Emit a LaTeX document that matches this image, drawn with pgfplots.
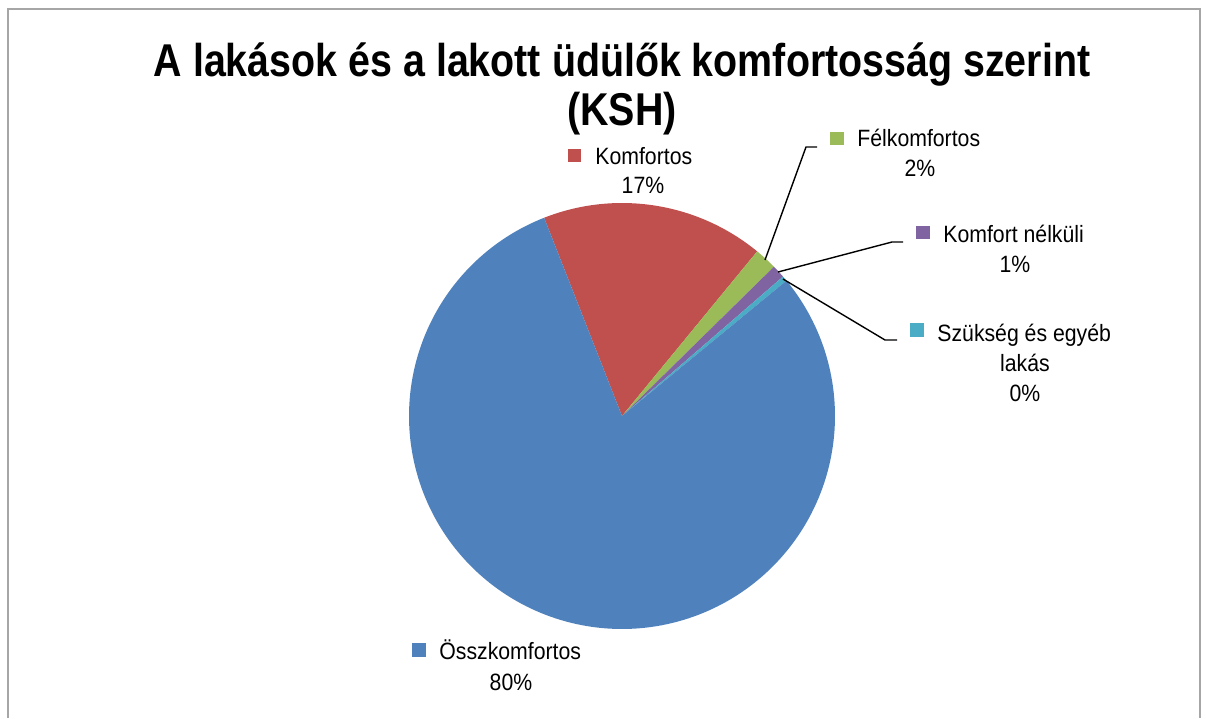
\documentclass[border=0pt]{standalone}
\usepackage{fontspec}
\setmainfont{Liberation Sans}[FakeStretch=0.9]
\newfontfamily\titlefont{Liberation Sans}[FakeStretch=0.856]
\usepackage{pgfplots}
\pgfplotsset{compat=1.18}
\definecolor{cBlue}{HTML}{4F81BD}
\definecolor{cRed}{HTML}{C0504D}
\definecolor{cGreen}{HTML}{9BBB59}
\definecolor{cPurple}{HTML}{8064A2}
\definecolor{cCyan}{HTML}{4BACC6}
% shares in percent
\def\vKomf{16.9}
\def\vFel{1.7}
\def\vNelk{1.0}
\def\vSzuk{0.4}
\def\vOssz{80.0}
\def\aStart{111.45}
\pgfmathsetmacro\aA{\aStart-3.6*\vKomf}
\pgfmathsetmacro\aB{\aA-3.6*\vFel}
\pgfmathsetmacro\aC{\aB-3.6*\vNelk}
\pgfmathsetmacro\aD{\aC-3.6*\vSzuk}
\pgfmathsetmacro\aE{\aD-3.6*\vOssz}
\def\cx{622}\def\cy{302}\def\rr{213}
\tikzset{lab/.style={inner sep=0pt,font=\fontsize{11.8}{14}\selectfont}}
\begin{document}
\begin{tikzpicture}
\begin{axis}[scale only axis,width=603pt,height=359pt,
  xmin=0,xmax=1206,ymin=0,ymax=718,hide axis,clip=false]
\path (axis cs:0,0) rectangle (axis cs:1206,718);
\draw[gray!70,line width=0.8pt] (axis cs:8,0) -- (axis cs:8,709) -- (axis cs:1200,709) -- (axis cs:1200,0);
% slices
\addplot[fill=cRed,draw=none,domain=\aA:\aStart,samples=60,variable=\t] ({\cx+\rr*cos(\t)},{\cy+\rr*sin(\t)}) -- (axis cs:\cx,\cy) -- cycle;
\addplot[fill=cGreen,draw=none,domain=\aB:\aA,samples=10,variable=\t] ({\cx+\rr*cos(\t)},{\cy+\rr*sin(\t)}) -- (axis cs:\cx,\cy) -- cycle;
\addplot[fill=cPurple,draw=none,domain=\aC:\aB,samples=6,variable=\t] ({\cx+\rr*cos(\t)},{\cy+\rr*sin(\t)}) -- (axis cs:\cx,\cy) -- cycle;
\addplot[fill=cCyan,draw=none,domain=\aD:\aC,samples=4,variable=\t] ({\cx+\rr*cos(\t)},{\cy+\rr*sin(\t)}) -- (axis cs:\cx,\cy) -- cycle;
\addplot[fill=cBlue,draw=none,domain=\aE:\aD,samples=200,variable=\t] ({\cx+\rr*cos(\t)},{\cy+\rr*sin(\t)}) -- (axis cs:\cx,\cy) -- cycle;
% title
\node[inner sep=0pt,anchor=base,font=\titlefont\fontsize{23}{27}\selectfont\bfseries] at (axis cs:622,641) {A lakások és a lakott üdülők komfortosság szerint};
\node[inner sep=0pt,anchor=base,font=\titlefont\fontsize{23}{27}\selectfont\bfseries] at (axis cs:622,592) {(KSH)};
% leader lines
\draw[black,line width=0.7pt] (axis cs:765,458) -- (axis cs:806,571) -- (axis cs:817,571);
\draw[black,line width=0.7pt] (axis cs:778,446) -- (axis cs:892,476) -- (axis cs:903,476);
\draw[black,line width=0.7pt] (axis cs:783,439) -- (axis cs:885,378) -- (axis cs:897,378);
% labels
\fill[cRed] (axis cs:568,556) rectangle (axis cs:581,569);
\node[lab,anchor=base west] at (axis cs:595,553) {Komfortos};
\node[lab,anchor=base] at (axis cs:643,524) {17\%};
\fill[cGreen] (axis cs:830,573) rectangle (axis cs:844,586);
\node[lab,anchor=base west] at (axis cs:857,571) {Félkomfortos};
\node[lab,anchor=base] at (axis cs:920,541) {2\%};
\fill[cPurple] (axis cs:916,479) rectangle (axis cs:930,492);
\node[lab,anchor=base west] at (axis cs:943,475) {Komfort nélküli};
\node[lab,anchor=base] at (axis cs:1015,445) {1\%};
\fill[cCyan] (axis cs:910,381) rectangle (axis cs:924,395);
\node[lab,anchor=base west] at (axis cs:937,377) {Szükség és egyéb};
\node[lab,anchor=base] at (axis cs:1025,347) {lakás};
\node[lab,anchor=base] at (axis cs:1025,317) {0\%};
\fill[cBlue] (axis cs:412,61) rectangle (axis cs:426,75);
\node[lab,anchor=base west] at (axis cs:439,59) {Összkomfortos};
\node[lab,anchor=base] at (axis cs:511,28) {80\%};
\end{axis}
\end{tikzpicture}
\end{document}
